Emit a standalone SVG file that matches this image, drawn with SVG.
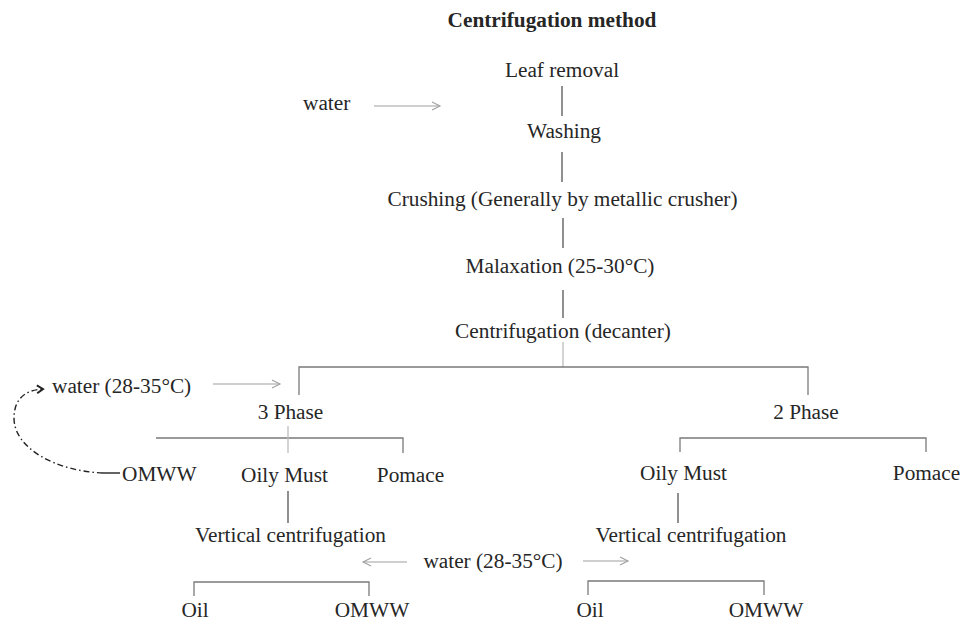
<svg xmlns="http://www.w3.org/2000/svg" width="965" height="624" viewBox="0 0 965 624">
<defs>
<style>
text{font-family:"Liberation Serif","Times New Roman",serif;font-size:21.3px;fill:#262626;text-anchor:middle}
.t{font-weight:bold}
.s{text-anchor:start}
.ln{stroke:#555;stroke-width:1.3;fill:none}
.br{stroke:#7a7a7a;stroke-width:1.3;fill:none}
.lt{stroke:#bdbdbd;stroke-width:1.3;fill:none}
.ar{stroke:#a0a0a0;stroke-width:1.1;fill:none}
</style>
<marker id="ah" markerUnits="userSpaceOnUse" markerWidth="12" markerHeight="12" refX="9" refY="5" orient="auto">
<path d="M1,1 L9,5 L1,9" fill="none" stroke="#a0a0a0" stroke-width="1.1"/>
</marker>
<marker id="ahd" markerUnits="userSpaceOnUse" markerWidth="12" markerHeight="12" refX="8" refY="5" orient="auto">
<path d="M2,1 L8,5 L2,9" fill="none" stroke="#222" stroke-width="2"/>
</marker>
</defs>
<rect width="965" height="624" fill="#fff"/>
<g id="title"><text class="t" x="552" y="27">Centrifugation method</text></g>
<g id="n-leaf"><text x="562" y="77">Leaf removal</text></g>
<g id="n-water1"><text class="s" x="303" y="110">water</text></g>
<g id="n-washing"><text x="564" y="138">Washing</text></g>
<g id="n-crushing"><text x="562.5" y="206">Crushing (Generally by metallic crusher)</text></g>
<g id="n-malax"><text x="560" y="273">Malaxation (25-30°C)</text></g>
<g id="n-centri"><text x="563" y="338">Centrifugation (decanter)</text></g>
<g id="n-water2"><text class="s" x="52" y="393">water (28-35°C)</text></g>
<g id="n-3phase"><text x="290.5" y="419">3 Phase</text></g>
<g id="n-2phase"><text x="806" y="419">2 Phase</text></g>
<g id="n-omww1"><text class="s" x="122" y="481">OMWW</text></g>
<g id="n-oily1"><text x="284.5" y="482">Oily Must</text></g>
<g id="n-pomace1"><text x="410.5" y="482">Pomace</text></g>
<g id="n-oily2"><text x="683.5" y="480">Oily Must</text></g>
<g id="n-pomace2"><text x="926.5" y="480">Pomace</text></g>
<g id="n-vc1"><text x="290.5" y="542">Vertical centrifugation</text></g>
<g id="n-vc2"><text x="691" y="542">Vertical centrifugation</text></g>
<g id="n-water3"><text x="493" y="568">water (28-35°C)</text></g>
<g id="n-oil1"><text x="195" y="617">Oil</text></g>
<g id="n-omww2"><text x="372" y="617">OMWW</text></g>
<g id="n-oil2"><text x="590" y="617">Oil</text></g>
<g id="n-omww3"><text x="766" y="617">OMWW</text></g>
<g id="connectors">
<path class="ln" d="M562,86V116M562,152V182M563,218V248M563,290V318"/>
<path class="lt" d="M563,342V367"/>
<path class="br" d="M299,395V367H808V395"/>
<path class="br" d="M156,438H403V453"/>
<path class="lt" d="M288,426V453"/>
<path class="br" d="M680,452V438H926V452"/>
<path class="ln" d="M288,491V523M678,493V523"/>
<path class="br" d="M194,596V582H369V596M588,595V581H764V595"/>
<path class="ar" d="M374,106H440" marker-end="url(#ah)"/>
<path class="ar" d="M213,384H280" marker-end="url(#ah)"/>
<path class="ar" d="M407,562H363" marker-end="url(#ah)"/>
<path class="ar" d="M583,561H628" marker-end="url(#ah)"/>
<path d="M120,473H103" stroke="#222" stroke-width="1.4" fill="none"/>
<path d="M103,473C55,471 14,448 14,418C14,400 24,390 43,389" stroke="#222" stroke-width="1.4" fill="none" stroke-dasharray="6,3,1.5,3" marker-end="url(#ahd)"/>
</g>
</svg>
